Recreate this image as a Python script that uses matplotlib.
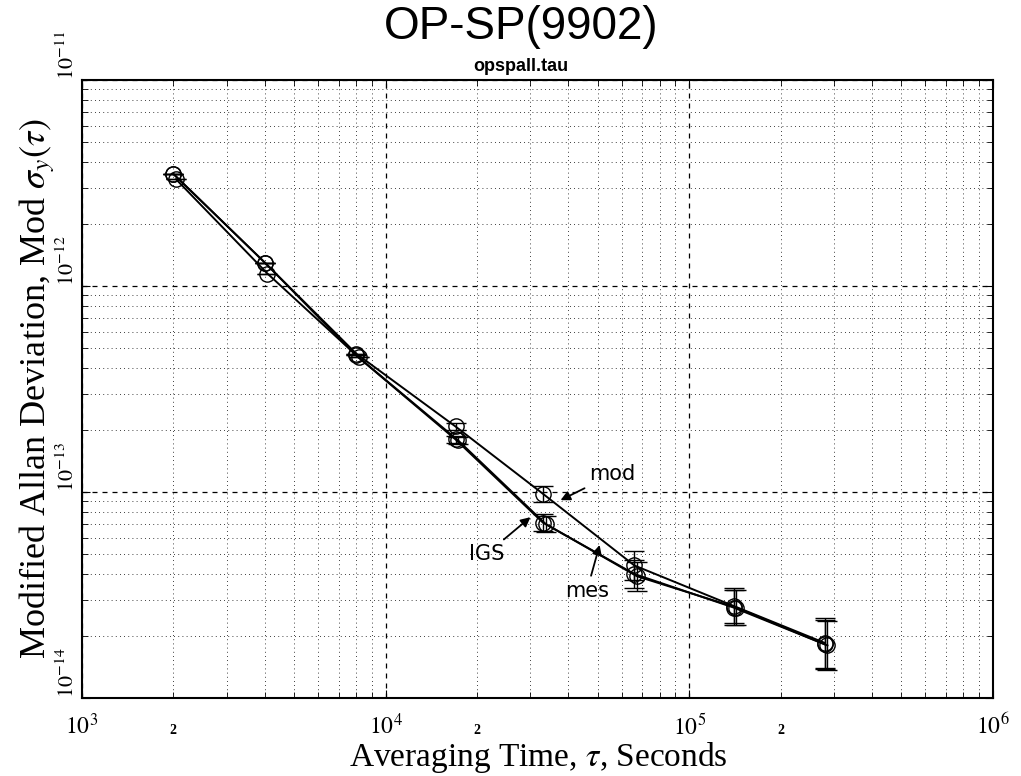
import numpy as np
import matplotlib
matplotlib.use("Agg")
from matplotlib import pyplot as plt
from matplotlib.ticker import LogLocator, NullFormatter

# averaging times (s)
tau = [2000, 4000, 8000, 17000, 33000, 66000, 140000, 280000]

# modified Allan deviation for each series
mod = [3.5e-12, 1.30e-12, 4.7e-13, 2.08e-13, 9.8e-14, 4.4e-14, 2.80e-14, 1.85e-14]
igs = [3.5e-12, 1.30e-12, 4.6e-13, 1.80e-13, 7.1e-14, 4.0e-14, 2.75e-14, 1.82e-14]
mes = [3.3e-12, 1.15e-12, 4.5e-13, 1.78e-13, 7.0e-14, 3.9e-14, 2.75e-14, 1.80e-14]

# error bar half-widths in decades
err_dex = [0.0, 0.0, 0.0, 0.015, 0.04, 0.07, 0.085, 0.12]

x_ticks = [1e3, 1e4, 1e5, 1e6]
x_labels = [r'$10^{3}$', r'$10^{4}$', r'$10^{5}$', r'$10^{6}$']
x_minor_lab = [2e3, 2e4, 2e5]
y_ticks = [1e-14, 1e-13, 1e-12, 1e-11]
y_labels = [r'$10^{-14}$', r'$10^{-13}$', r'$10^{-12}$', r'$10^{-11}$']

plt.rcParams['mathtext.fontset'] = 'stix'
plt.rcParams['font.family'] = 'Liberation Serif'

fig = plt.figure(figsize=(10.21, 7.76), dpi=100)
ax = fig.add_axes([0.0803, 0.1005, 0.892, 0.7964])
ax.set_xscale('log')
ax.set_yscale('log')
ax.set_xlim(1e3, 1e6)
ax.set_ylim(1e-14, 1e-11)

err = np.array(err_dex)
for series, dx in zip([mod, igs, mes], [1.0, 1.0, 1.02]):
    y = np.array(series)
    lo = y - y * 10 ** (-err)
    hi = y * 10 ** err - y
    t = np.array(tau) * dx
    ax.plot(t, y, color='black', lw=1.4, zorder=3)
    ax.errorbar(t, y, yerr=[lo, hi], fmt='o', ms=11, mfc='none', mec='black',
                mew=1.0, ecolor='black', elinewidth=1.0, capsize=7, capthick=1.5,
                zorder=4)

# grid
ax.xaxis.set_minor_locator(LogLocator(base=10, subs=np.arange(2, 10)))
ax.yaxis.set_minor_locator(LogLocator(base=10, subs=np.arange(2, 10)))
ax.xaxis.set_minor_formatter(NullFormatter())
ax.yaxis.set_minor_formatter(NullFormatter())
ax.grid(which='major', color='black', ls=(0, (4, 4)), lw=0.9)
ax.grid(which='minor', color='black', ls=(0, (1, 4)), lw=0.6)

ax.set_xticks(x_ticks)
ax.set_xticklabels(x_labels, fontsize=17)
ax.set_yticks(y_ticks)
ax.set_yticklabels(y_labels, fontsize=16, rotation=90, va='bottom')
ax.tick_params(which='both', direction='in', top=True, right=True)
ax.tick_params(which='major', length=6)
ax.tick_params(which='minor', length=4)
ax.tick_params(axis='x', pad=11)
ax.tick_params(axis='y', pad=2)
for s in ax.spines.values():
    s.set_linewidth(1.5)

for v in x_minor_lab:
    ax.text(v, -0.042, '2', transform=ax.get_xaxis_transform(), ha='center',
            va='top', fontsize=10, fontweight='bold')

# x label placed by hand so it stays inside the figure
fig.text(0.5268, 0.013, r'Averaging Time, $\tau$, Seconds', ha='center',
         va='baseline', fontsize=24)
ax.set_ylabel(r'Modified Allan Deviation, Mod $\sigma_y(\tau)$', fontsize=26,
              labelpad=0)

fig.text(0.51, 0.937, 'OP-SP(9902)', ha='center', va='bottom', fontsize=33,
         family='Liberation Sans')
fig.text(0.51, 0.903, 'opspall.tau', ha='center', va='bottom', fontsize=13,
         fontweight='bold', family='Liberation Sans')

# handwritten annotations
hand = dict(fontsize=15, family='DejaVu Sans', color='black')
arrow = dict(arrowstyle='-|>', color='black', lw=1.3, mutation_scale=14)
ax.annotate('mod', xy=(37000, 9.0e-14), xytext=(56000, 1.22e-13),
            arrowprops=arrow, ha='center', va='center', **hand)
ax.annotate('IGS', xy=(30500, 7.7e-14), xytext=(21500, 5.0e-14),
            arrowprops=arrow, ha='center', va='center', **hand)
ax.annotate('mes', xy=(51000, 5.7e-14), xytext=(46000, 3.3e-14),
            arrowprops=arrow, ha='center', va='center', **hand)

fig.savefig('out.png', dpi=100)
